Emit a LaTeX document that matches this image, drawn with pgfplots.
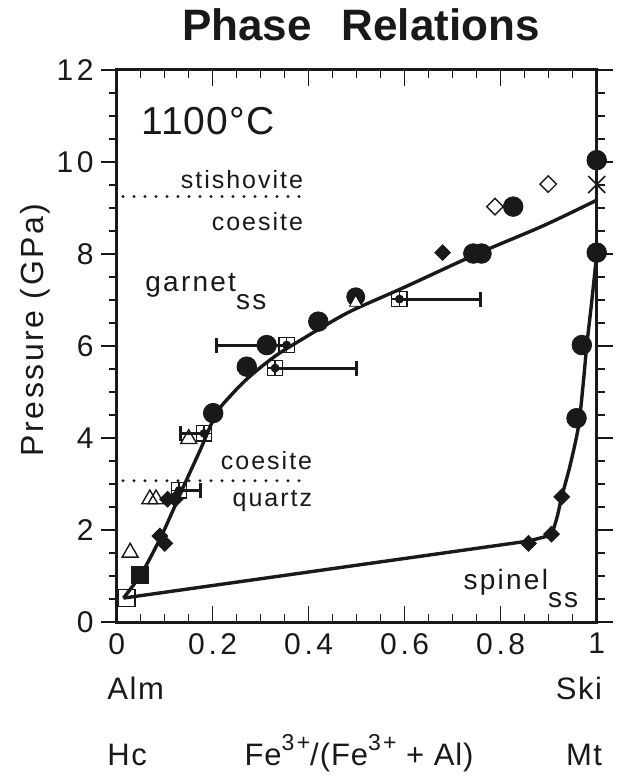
\documentclass[border=0pt]{standalone}
\usepackage{fontspec}
\setmainfont{Liberation Sans}
\usepackage{pgfplots}
\usepackage{pgfplotstable}
\pgfplotsset{compat=1.18}
\definecolor{ink}{gray}{0.1}

% filled circles
\pgfplotstableread{
x y
0.3125 6.02
0.271 5.55
0.201 4.54
0.420 6.53
0.743 8.01
0.760 8.01
0.826 9.03
1.000 10.04
1.000 8.03
0.969 6.02
0.958 4.43
}\circles

% filled diamonds
\pgfplotstableread{
x y
0.679 8.03
0.858 1.71
0.906 1.91
0.927 2.72
0.090 1.87
0.100 1.71
0.106 2.67
0.122 2.67
}\diamonds

% open triangles
\pgfplotstableread{
x y
0.028 1.51
0.069 2.67
0.082 2.67
0.150 3.98
}\triangles

% open squares with cross
\pgfplotstableread{
x y
0.354 6.02
0.330 5.52
0.589 7.02
0.182 4.10
0.130 2.86
}\xsquares

% error bars to the left / right
\pgfplotstableread{
x y e
0.354 6.02 0.146
0.182 4.10 0.050
}\errleft
\pgfplotstableread{
x y e
0.330 5.52 0.170
0.589 7.02 0.168
0.130 2.86 0.044
}\errright

\newcommand{\lab}{\fontsize{12.5}{14}\selectfont\addfontfeature{LetterSpace=8}}
\newcommand{\labb}{\fontsize{14}{16}\selectfont\addfontfeature{LetterSpace=8}}
\newcommand{\tickf}{\fontsize{15}{17}\selectfont\addfontfeature{LetterSpace=12}}
\newcommand{\botf}{\fontsize{15.5}{18}\selectfont\addfontfeature{LetterSpace=5}}
\newcommand{\sups}[1]{\raisebox{0.5em}{\fontsize{11.5}{12}\selectfont\addfontfeature{LetterSpace=10}#1}}

\begin{document}
\begin{tikzpicture}
\begin{axis}[
    name=ax,
    scale only axis,
    width=240pt, height=276pt,
    xmin=0, xmax=1, ymin=0, ymax=12,
    xtick={0,0.2,0.4,0.6,0.8,1},
    ytick={0,2,4,6,8,10,12},
    minor x tick num=3,
    minor y tick num=3,
    xtick align=inside,
    ytick align=outside,
    major tick length=8pt,
    minor tick length=4pt,
    axis line style={line width=1.5pt, ink},
    tick style={line width=0.6pt, ink},
    /pgf/number format/assume math mode=true,
    ticklabel style={font=\tickf, text=ink},
    xticklabel style={yshift=-2pt},
    clip=false,
]
% phase boundaries
\addplot[ink, line width=1.7pt, smooth, tension=0.5] coordinates {
    (0.014,0.52) (0.052,1.06) (0.094,1.89) (0.139,2.94) (0.174,3.74)
    (0.208,4.54) (0.24,4.95) (0.27,5.27) (0.305,5.58) (0.34,5.85)
    (0.39,6.17) (0.43,6.42) (0.49,6.77) (0.6,7.28) (0.75,8.0)
    (0.89,8.62) (1.0,9.17)
};
\addplot[ink, line width=1.7pt] coordinates {
    (0.014,0.52) (0.858,1.76) (0.906,1.89)
};
\addplot[ink, line width=1.7pt, smooth, tension=0.5] coordinates {
    (0.906,1.89) (0.918,2.3) (0.927,2.72) (0.944,3.38) (0.962,4.25)
    (0.972,5.19) (0.979,5.98) (0.99,7.0) (1.0,8.0)
};
% silica transitions
\addplot[ink, line width=1.6pt, line cap=round, dash pattern=on 0pt off 5.5pt]
    coordinates {(0.013,9.25) (0.385,9.25)};
\addplot[ink, line width=1.6pt, line cap=round, dash pattern=on 0pt off 5.5pt]
    coordinates {(0.013,3.07) (0.385,3.07)};

% error bars
\addplot[ink, only marks, mark=none,
    error bars/.cd, x dir=minus, x explicit,
    error bar style={line width=1.5pt, ink},
    error mark options={line width=1.5pt, mark size=3.75pt, ink, rotate=90}]
    table[x error=e] {\errleft};
\addplot[ink, only marks, mark=none,
    error bars/.cd, x dir=plus, x explicit,
    error bar style={line width=1.5pt, ink},
    error mark options={line width=1.5pt, mark size=3.75pt, ink, rotate=90}]
    table[x error=e] {\errright};

% markers
\addplot[only marks, mark=*, mark size=4.9pt, color=ink] table {\circles};
\addplot[only marks, mark=*, mark size=4.5pt, color=ink] coordinates {(0.498,7.07)};
\addplot[only marks, mark=triangle*, mark size=3.6pt,
    mark options={fill=white, draw=none, yshift=-2.9pt}] coordinates {(0.498,7.07)};
\addplot[only marks, mark=square*, mark size=2.8pt,
    mark options={rotate=45}, color=ink] table {\diamonds};
\addplot[only marks, mark=square*, mark size=4.3pt, color=ink] coordinates {(0.049,1.02)};
\addplot[only marks, mark=triangle, mark size=4.6pt,
    mark options={fill=white, draw=ink, line width=0.7pt}] table {\triangles};
\addplot[only marks, mark=square, mark size=3.8pt,
    mark options={fill=white, draw=ink, line width=0.6pt}] table {\xsquares};
\addplot[only marks, mark=+, mark size=3.8pt,
    mark options={draw=ink, line width=0.6pt}] table {\xsquares};
\addplot[only marks, mark=square, mark size=4.2pt,
    mark options={fill=white, draw=ink, line width=0.7pt}] coordinates {(0.021,0.52)};
\addplot[only marks, mark=square, mark size=2.9pt,
    mark options={rotate=45, fill=white, draw=ink, line width=0.7pt}]
    coordinates {(0.788,9.03) (0.899,9.52)};
\addplot[only marks, mark=x, mark size=6pt,
    mark options={draw=ink, line width=0.8pt}] coordinates {(1.0,9.51)};

% labels
\node[anchor=center, text=ink, font=\fontsize{19.5}{22}\selectfont\addfontfeature{LetterSpace=3}]
    at (axis cs:0.19,10.88) {1100°C};
\node[anchor=base east, text=ink, font=\lab, inner sep=0pt] at (axis cs:0.389,9.43) {stishovite};
\node[anchor=base east, text=ink, font=\lab, inner sep=0pt] at (axis cs:0.389,8.52) {coesite};
\node[anchor=base west, text=ink, font=\labb, inner sep=0pt] at (axis cs:0.059,7.18)
    {garnet\raisebox{-9pt}{ss}};
\node[anchor=base east, text=ink, font=\lab, inner sep=0pt] at (axis cs:0.408,3.32) {coesite};
\node[anchor=base east, text=ink, font=\lab, inner sep=0pt] at (axis cs:0.408,2.51) {quartz};
\node[anchor=base west, text=ink, font=\labb, inner sep=0pt] at (axis cs:0.722,0.70)
    {spinel\raisebox{-9pt}{ss}};

\node[anchor=base, text=ink, inner sep=0pt,
    font=\fontsize{22}{26}\selectfont\bfseries]
    at (axis cs:0.509,12.65) {Phase\hspace{15pt}Relations};
\node[rotate=90, anchor=center, text=ink,
    font=\fontsize{16}{18}\selectfont\addfontfeature{LetterSpace=8}]
    at (axis cs:-0.170,6.35) {Pressure (GPa)};

\node[anchor=base west, text=ink, font=\botf, inner sep=0pt] at (axis cs:-0.02,-1.68) {Alm};
\node[anchor=base east, text=ink, font=\botf, inner sep=0pt] at (axis cs:1.012,-1.68) {Ski};
\node[anchor=base west, text=ink, font=\botf, inner sep=0pt] at (axis cs:-0.02,-3.12) {Hc};
\node[anchor=base, text=ink, inner sep=0pt,
    font=\fontsize{15.5}{18}\selectfont\addfontfeature{LetterSpace=3}]
    at (axis cs:0.505,-3.12) {Fe\sups{3+}/(Fe\sups{3+} + Al)};
\node[anchor=base east, text=ink, font=\botf, inner sep=0pt] at (axis cs:1.012,-3.12) {Mt};
\end{axis}
\pgfresetboundingbox
\path[use as bounding box] ([xshift=-58.35pt,yshift=-77pt]ax.south west)
    rectangle ([xshift=15.15pt,yshift=35pt]ax.north east);
\end{tikzpicture}
\end{document}
